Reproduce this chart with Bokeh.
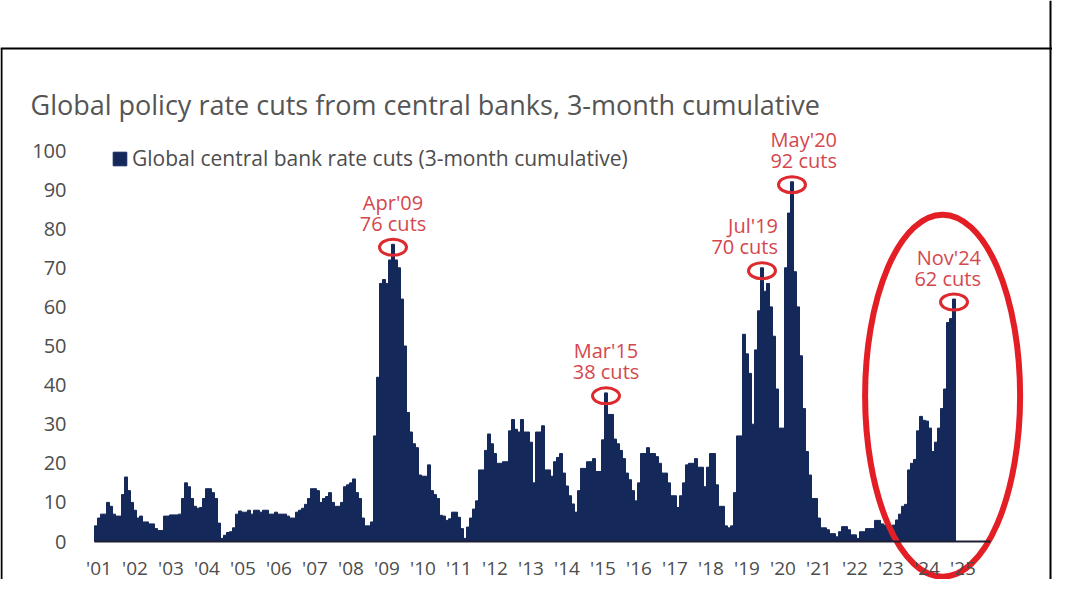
from bokeh.plotting import figure
from bokeh.models import (Range1d, LinearAxis, FixedTicker, Label, Legend, LegendItem,
                          ColumnDataSource, Span)
from bokeh.embed import file_html
from bokeh.resources import INLINE

# ---------------- data ----------------
cuts_2001 = [4, 6, 7, 7, 10, 9, 7, 6.5, 6.5, 12, 16.5, 13]
cuts_2002 = [10, 8, 6, 6.5, 5, 5, 4.5, 4.5, 3.3, 2.8, 2.8, 6.5]
cuts_2003 = [6.5, 6.8, 6.8, 6.8, 7, 11, 15, 14, 11, 9, 8.5, 8.7]
cuts_2004 = [11, 13.5, 13.5, 12.5, 11, 4.7, 0.8, 1.6, 2.3, 2.5, 3.5, 7]
cuts_2005 = [7.8, 7.5, 7.5, 8, 7, 8, 8, 7.5, 8, 8, 7, 7]
cuts_2006 = [7.5, 7, 7, 7, 6.5, 6, 6, 7.5, 8, 8.5, 9.5, 11]
cuts_2007 = [13.5, 13.5, 13, 10, 11, 11.5, 12.5, 10, 9, 9, 10, 14]
cuts_2008 = [14.5, 15, 16, 12.5, 11, 6, 4, 4, 5, 27, 42, 66]
cuts_2009 = [67, 66, 72, 76, 72, 70, 62, 50, 33, 28, 25, 24]
cuts_2010 = [17, 16.7, 16.7, 19.6, 13, 12, 11, 6.7, 6.5, 5.4, 5.8, 7.5]
cuts_2011 = [7.5, 6.2, 3.3, 0.8, 3.7, 6, 8.3, 10.4, 18.3, 18.3, 23.3, 27.5]
cuts_2012 = [25, 22.5, 20, 20, 20.4, 20.4, 28.3, 31.2, 28.7, 28, 31.2, 28]
cuts_2013 = [28, 25.4, 15, 28, 28, 29.6, 18.3, 18.3, 16.7, 20.4, 21.5, 22.5]
cuts_2014 = [17.5, 14.2, 11.7, 9.6, 7.5, 13, 18.7, 18.7, 20.4, 20.4, 21.2, 17.9]
cuts_2015 = [17.9, 26, 38, 32.5, 32.5, 26.2, 25, 23.3, 21.2, 17.5, 15.8, 13]
cuts_2016 = [10.4, 15, 22.5, 22.5, 24, 22.5, 22.5, 21.7, 20, 17.5, 17.5, 15]
cuts_2017 = [11.7, 11.7, 8.7, 11.7, 15, 19.6, 20, 20, 21.2, 19, 19, 14]
cuts_2018 = [19, 22.5, 22.5, 14.5, 9, 9, 4, 3.5, 4, 12.5, 27, 27]
cuts_2019 = [53, 48, 43, 30, 49, 59, 70, 64, 66, 60, 52.5, 39]
cuts_2020 = [29, 29, 70, 84, 92, 69, 60, 47.5, 34, 23, 17, 11]
cuts_2021 = [11, 6, 3.5, 3.5, 3, 2, 2, 1.2, 2.5, 3.8, 3.8, 3]
cuts_2022 = [1.7, 1.7, 0.8, 2.5, 2.5, 3.3, 3.3, 3.3, 5.4, 5.4, 4.5, 4.2]
cuts_2023 = [3.3, 3.3, 4.2, 5.5, 7, 9, 9.5, 18.3, 20, 21, 28.3, 32]
cuts_2024 = [31, 30.8, 29, 23, 25.4, 29, 34, 39, 56, 57, 62]

year_tick_labels = ["'01", "'02", "'03", "'04", "'05", "'06", "'07", "'08", "'09", "'10",
                    "'11", "'12", "'13", "'14", "'15", "'16", "'17", "'18", "'19", "'20",
                    "'21", "'22", "'23", "'24", "'25"]
y_ticks = [0, 10, 20, 30, 40, 50, 60, 70, 80, 90, 100]

peak_labels = ["Apr'09", "Mar'15", "Jul'19", "May'20", "Nov'24"]
peak_year = [2009, 2015, 2019, 2020, 2024]
peak_month = [4, 3, 7, 5, 11]
peak_counts = [76, 38, 70, 92, 62]

title_text = "Global policy rate cuts from central banks, 3-month cumulative"
legend_text = "Global central bank rate cuts (3-month cumulative)"

monthly_cuts = (cuts_2001 + cuts_2002 + cuts_2003 + cuts_2004 + cuts_2005 + cuts_2006 +
                cuts_2007 + cuts_2008 + cuts_2009 + cuts_2010 + cuts_2011 + cuts_2012 +
                cuts_2013 + cuts_2014 + cuts_2015 + cuts_2016 + cuts_2017 + cuts_2018 +
                cuts_2019 + cuts_2020 + cuts_2021 + cuts_2022 + cuts_2023 + cuts_2024)
month_index = list(range(len(monthly_cuts)))
peak_index = [(y - 2001) * 12 + (m - 1) for y, m in zip(peak_year, peak_month)]

# ---------------- layout / style ----------------
W, H = 1052, 579
PXM = 3.0        # px per month
PXU = 3.91       # px per unit
X0 = 95.5        # canvas px of month-0 centre
Y0 = 541.0       # canvas px (from top) of value 0

def cx(px):      # canvas x px -> data x
    return (px - X0) / PXM

def cy(px):      # canvas y px (from top) -> data y
    return (Y0 - px) / PXU

NAVY = "#14295a"
RED = "#dc2a2f"
RED_TXT = "#d4474e"
GREY = "#4d4d4d"
FONT = "Open Sans"

p = figure(width=W, height=H, x_range=Range1d(cx(0), cx(W)), y_range=Range1d(cy(H), cy(0)),
           output_backend="svg", toolbar_location=None, min_border=0,
           x_axis_type=None, y_axis_type=None)
p.outline_line_color = None
p.background_fill_color = "white"

src = ColumnDataSource(dict(m=month_index, v=monthly_cuts))
bars = p.vbar(x="m", top="v", bottom=0, width=1.0, source=src,
              fill_color=NAVY, line_color=NAVY, line_width=1.0)

# axes
xaxis = LinearAxis(fixed_location=0, bounds=(-0.5, 298.2),
                   ticker=FixedTicker(ticks=[12 * k + 1 for k in range(len(year_tick_labels))]),
                   major_label_overrides={12 * k + 1: lab for k, lab in enumerate(year_tick_labels)})
xaxis.axis_line_color = "#1c1f33"
xaxis.axis_line_width = 2
xaxis.major_tick_line_color = None
xaxis.minor_tick_line_color = None
xaxis.major_label_standoff = 7
xaxis.major_label_text_font = FONT
xaxis.major_label_text_font_size = "19px"
xaxis.major_label_text_color = GREY
p.add_layout(xaxis, "below")

yaxis = LinearAxis(fixed_location=cx(80), ticker=FixedTicker(ticks=y_ticks))
yaxis.axis_line_color = None
yaxis.major_tick_line_color = None
yaxis.minor_tick_line_color = None
yaxis.major_label_standoff = 8
yaxis.major_label_text_font = FONT
yaxis.major_label_text_font_size = "20px"
yaxis.major_label_text_color = GREY
p.add_layout(yaxis, "left")

# title
p.add_layout(Label(x=cx(30), y=cy(104), text=title_text, text_font=FONT,
                   text_font_size="27px", text_color="#555555", text_baseline="alphabetic"))

# legend
legend = Legend(items=[LegendItem(label=legend_text, renderers=[bars])],
                location=(111, 407), border_line_color=None, background_fill_alpha=0,
                padding=0, margin=0, glyph_width=17, glyph_height=17, label_standoff=4,
                label_text_font=FONT, label_text_font_size="21px", label_text_color=GREY)
p.add_layout(legend)

# peak rings and labels
p.ellipse(x=peak_index, y=[c - 0.75 for c in peak_counts], width=27, height=16,
          width_units="screen", height_units="screen", fill_color=None,
          line_color=RED, line_width=3)

align = ["center", "center", "right", "right", "right"]
dx = [0, 0, 16, 45, 27]
for lab, idx, cnt, al, off in zip(peak_labels, peak_index, peak_counts, align, dx):
    p.add_layout(Label(x=idx, y=cnt, x_offset=off, y_offset=42, text=lab, text_align=al,
                       text_baseline="middle", text_font=FONT, text_font_size="20px",
                       text_color=RED_TXT))
    p.add_layout(Label(x=idx, y=cnt, x_offset=off, y_offset=21, text=f"{cnt} cuts",
                       text_align=al, text_baseline="middle", text_font=FONT,
                       text_font_size="20px", text_color=RED_TXT))

# big highlight ellipse around the latest cycle
p.ellipse(x=peak_index[-1] - 3.8, y=37.3, width=155, height=362, width_units="screen",
          height_units="screen", fill_color=None, line_color="#e31e25", line_width=6)

# page frame lines
p.add_layout(Span(location=cy(48), dimension="width", line_color="black", line_width=2))
p.segment(x0=[cx(1)], x1=[cx(1)], y0=[cy(H)], y1=[cy(48)], line_color="black", line_width=2)
p.segment(x0=[cx(1050)], x1=[cx(1050)], y0=[cy(H)], y1=[cy(0)], line_color="black", line_width=2)

open("out.html", "w").write(file_html(p, INLINE))
